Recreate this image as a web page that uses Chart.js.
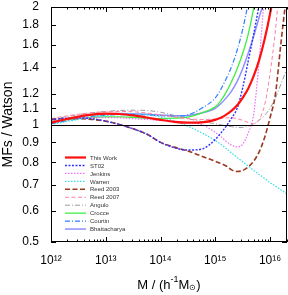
<!DOCTYPE html>
<html>
<head>
<meta charset="utf-8">
<script src="https://cdn.jsdelivr.net/npm/chart.js@4.4.1/dist/chart.umd.min.js"></script>
<style>
  body { margin: 0; background: #fff; }
  canvas { display: block; }
</style>
</head>
<body>
<canvas id="mfChart" width="288" height="295"></canvas>
<script>
// log10 of halo mass in h^-1 Msun
const logMass = [12, 12.25, 12.5, 12.75, 13, 13.25, 13.5, 13.75, 14, 14.25, 14.5, 14.75,
                 15, 15.1, 15.2, 15.3, 15.4, 15.5, 15.6, 15.7, 15.8, 15.9, 16, 16.1, 16.2, 16.3];

// mass function ratio to Watson
const thisWork     = [1.01, 1.03, 1.048, 1.06, 1.066, 1.064, 1.055, 1.042, 1.028, 1.016, 1.011, 1.013,
                      1.028, 1.04, 1.06, 1.085, 1.12, 1.17, 1.235, 1.33, 1.46, 1.65, 1.92, 2.3, 2.8, 3.4];
const st02         = [1.03, 1.037, 1.04, 1.035, 1.02, 1.0, 0.975, 0.945, 0.90, 0.872, 0.86, 0.865,
                      0.915, 0.95, 0.99, 1.04, 1.10, 1.24, 1.45, 1.70, 2.02, 2.4, 2.9, 3.5, 4.2, 5.0];
const jenkins      = [1.02, 1.03, 1.038, 1.042, 1.042, 1.04, 1.035, 1.03, 1.025, 1.02, 1.01, 1.0,
                      0.955, 0.932, 0.905, 0.885, 0.876, 0.89, 0.95, 1.06, 1.45, 2.15, 3.0, 4.0, 5.0, 6.0];
const warren       = [1.0, 1.015, 1.03, 1.045, 1.055, 1.062, 1.065, 1.06, 1.045, 1.02, 0.99, 0.952,
                      0.91, 0.89, 0.868, 0.845, 0.823, 0.803, 0.783, 0.763, 0.745, 0.728, 0.71, 0.695, 0.68, 0.665];
const reed2003     = [1.03, 1.035, 1.035, 1.03, 1.02, 1.0, 0.975, 0.945, 0.90, 0.875, 0.855, 0.83,
                      0.805, 0.795, 0.783, 0.765, 0.758, 0.762, 0.778, 0.805, 0.85, 0.925, 1.04, 1.2, 1.62, 2.15];
const reed2007     = [1.035, 1.05, 1.062, 1.072, 1.078, 1.08, 1.078, 1.07, 1.058, 1.045, 1.035, 1.03,
                      1.033, 1.037, 1.04, 1.04, 1.035, 1.025, 1.012, 1.005, 1.03, 1.12, 1.35, 1.75, 2.5, 3.4];
const angulo       = [1.03, 1.045, 1.06, 1.072, 1.08, 1.086, 1.088, 1.086, 1.075, 1.055, 1.035, 1.018,
                      1.005, 0.998, 0.992, 0.987, 0.983, 0.983, 0.99, 1.003, 1.025, 1.055, 1.10, 1.17, 1.27, 1.38];
const crocce       = [1.018, 1.028, 1.037, 1.043, 1.046, 1.046, 1.043, 1.038, 1.035, 1.038, 1.045, 1.07,
                      1.11, 1.15, 1.21, 1.29, 1.39, 1.52, 1.70, 1.98, 2.4, 2.9, 3.5, 4.2, 5.0, 6.0];
const courtin      = [1.005, 1.02, 1.035, 1.048, 1.056, 1.06, 1.06, 1.058, 1.054, 1.05, 1.058, 1.10,
                      1.17, 1.23, 1.31, 1.41, 1.55, 1.75, 2.05, 2.5, 3.0, 3.6, 4.3, 5.0, 6.0, 7.0];
const bhattacharya = [1.01, 1.03, 1.045, 1.057, 1.064, 1.067, 1.066, 1.062, 1.057, 1.053, 1.055, 1.07,
                      1.10, 1.13, 1.17, 1.22, 1.29, 1.39, 1.52, 1.68, 1.88, 2.1, 2.5, 3.0, 3.6, 4.3];

const yTicks = [0.5, 0.6, 0.7, 0.8, 0.9, 1, 1.1, 1.2, 1.4, 1.6, 1.8, 2];
const xDecades = [12, 13, 14, 15, 16];

const sup = { '0': '⁰', '1': '¹', '2': '²', '3': '³', '4': '⁴', '5': '⁵', '6': '⁶', '7': '⁷', '8': '⁸', '9': '⁹' };
const FONT = '"Liberation Sans", Arial, sans-serif';

const toPoints = vals => vals.map((v, i) => ({ x: Math.pow(10, logMass[i]), y: v }));

const series = [
    { label: 'This Work',    data: thisWork,     color: '#ff1010', width: 2.2, dash: [] },
    { label: 'ST02',         data: st02,         color: '#3030ff', width: 1.4, dash: [2, 1.5] },
    { label: 'Jenkins',      data: jenkins,      color: '#f070f0', width: 1.2, dash: [1.5, 1.5] },
    { label: 'Warren',       data: warren,       color: '#30e0e8', width: 1.2, dash: [1.5, 1.5] },
    { label: 'Reed 2003',    data: reed2003,     color: '#9a3a22', width: 1.6, dash: [5, 2.5] },
    { label: 'Reed 2007',    data: reed2007,     color: '#ff7fa0', width: 1.0, dash: [4, 2.5] },
    { label: 'Angulo',       data: angulo,       color: '#9a9a9a', width: 1.0, dash: [5, 2, 1, 2] },
    { label: 'Crocce',       data: crocce,       color: '#40ee40', width: 1.3, dash: [] },
    { label: 'Courtin',      data: courtin,      color: '#2f7fff', width: 1.2, dash: [5, 2, 1, 2] },
    { label: 'Bhattacharya', data: bhattacharya, color: '#8f8fff', width: 1.5, dash: [] }
];

// frame, inner ticks, unity line, x title and legend inside the plot
const framePlugin = {
    id: 'frame',
    afterDatasetsDraw(chart) {
        const { ctx, chartArea: a, scales: { y } } = chart;
        ctx.save();
        ctx.strokeStyle = '#000';
        ctx.lineWidth = 1;
        const y1 = Math.round(y.getPixelForValue(1)) + 0.5;
        ctx.beginPath();
        ctx.moveTo(a.left, y1);
        ctx.lineTo(a.right, y1);
        ctx.stroke();
        ctx.restore();
    },
    afterDraw(chart) {
        const { ctx, chartArea: a, scales: { x, y } } = chart;
        ctx.save();
        ctx.strokeStyle = '#000';
        ctx.lineWidth = 1;
        ctx.strokeRect(a.left + 0.5, a.top + 0.5, a.right - a.left - 1, a.bottom - a.top - 1);

        ctx.beginPath();
        xDecades.forEach(d => {
            for (let k = 1; k <= 9; k++) {
                const v = k * Math.pow(10, d);
                if (v > x.max) break;
                const px = Math.round(x.getPixelForValue(v)) + 0.5;
                const len = k === 1 ? 5 : 2.5;
                ctx.moveTo(px, a.bottom); ctx.lineTo(px, a.bottom - len);
                ctx.moveTo(px, a.top); ctx.lineTo(px, a.top + len);
            }
        });
        yTicks.forEach(v => {
            const py = Math.round(y.getPixelForValue(v)) + 0.5;
            ctx.moveTo(a.left, py); ctx.lineTo(a.left + 5, py);
            ctx.moveTo(a.right, py); ctx.lineTo(a.right - 5, py);
        });
        ctx.stroke();

        // x axis title with super/subscripts
        const parts = [
            { t: 'M / (h', size: 13, dy: 0 },
            { t: '-1', size: 9, dy: -5 },
            { t: 'M', size: 13, dy: 0 },
            { t: '⊙', size: 8, dy: 3 },
            { t: ')', size: 13, dy: 0 }
        ];
        let total = 0;
        parts.forEach(p => {
            ctx.font = p.size + 'px ' + FONT;
            p.w = ctx.measureText(p.t).width;
            total += p.w;
        });
        let tx = (a.left + a.right) / 2 - total / 2;
        const ty = 285;
        ctx.fillStyle = '#000';
        ctx.textBaseline = 'middle';
        parts.forEach(p => {
            ctx.font = p.size + 'px ' + FONT;
            ctx.fillText(p.t, tx, ty + p.dy);
            tx += p.w;
        });

        // legend
        const lx = 65, ly = 157.5, row = 7.95;
        ctx.font = '6px ' + FONT;
        chart.data.datasets.forEach((ds, i) => {
            const yy = ly + i * row;
            ctx.strokeStyle = ds.borderColor;
            ctx.lineWidth = ds.borderWidth;
            ctx.setLineDash(ds.borderDash || []);
            ctx.beginPath();
            ctx.moveTo(lx, yy);
            ctx.lineTo(lx + 21, yy);
            ctx.stroke();
            ctx.setLineDash([]);
            ctx.fillStyle = '#333';
            ctx.fillText(ds.label, lx + 25, yy + 0.5);
        });
        ctx.restore();
    }
};

new Chart(document.getElementById('mfChart').getContext('2d'), {
    type: 'line',
    data: {
        datasets: series.map(s => ({
            label: s.label,
            data: toPoints(s.data),
            borderColor: s.color,
            borderWidth: s.width,
            borderDash: s.dash,
            pointRadius: 0,
            fill: false,
            cubicInterpolationMode: 'monotone'
        }))
    },
    options: {
        responsive: false,
        animation: false,
        layout: { padding: { top: 7, right: 1, left: 0, bottom: 0 } },
        plugins: {
            legend: { display: false },
            tooltip: { enabled: false }
        },
        scales: {
            x: {
                type: 'logarithmic',
                min: 1e12,
                max: Math.pow(10, 16.31),
                afterBuildTicks: scale => {
                    scale.ticks = xDecades.map(d => ({ value: Math.pow(10, d) }));
                },
                afterFit: scale => {
                    scale.height = 53;
                    scale.paddingLeft = 0;
                    scale.paddingRight = 0;
                },
                grid: { display: false, drawTicks: false },
                border: { display: false },
                ticks: {
                    padding: 11,
                    color: '#000',
                    font: { family: FONT, size: 12 },
                    maxRotation: 0,
                    autoSkip: false,
                    callback: value => '10' + String(Math.round(Math.log10(value))).split('').map(c => sup[c]).join('')
                }
            },
            y: {
                type: 'logarithmic',
                min: 0.5,
                max: 2,
                afterBuildTicks: scale => {
                    scale.ticks = yTicks.map(v => ({ value: v }));
                },
                afterFit: scale => {
                    scale.width = 51;
                    scale.paddingTop = 0;
                    scale.paddingBottom = 0;
                },
                grid: { display: false, drawTicks: false },
                border: { display: false },
                ticks: {
                    padding: 12,
                    color: '#000',
                    font: { family: FONT, size: 12 },
                    autoSkip: false,
                    callback: value => String(value)
                },
                title: {
                    display: true,
                    text: 'MFs / Watson',
                    color: '#000',
                    font: { family: FONT, size: 14 },
                    padding: { top: 0, bottom: 0 }
                }
            }
        }
    },
    plugins: [framePlugin]
});
</script>
</body>
</html>
